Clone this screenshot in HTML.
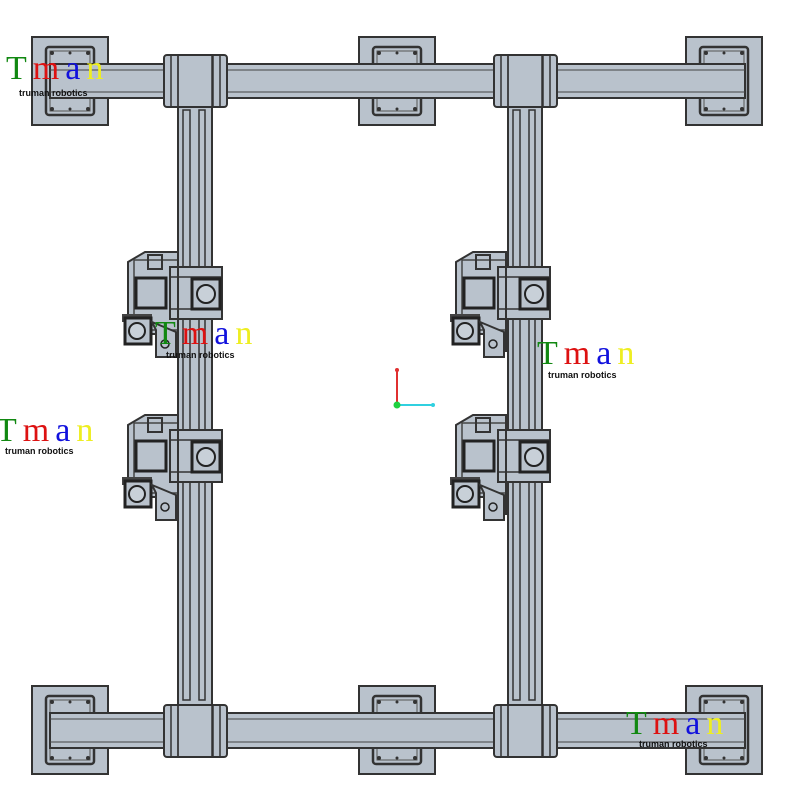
<!DOCTYPE html>
<html><head><meta charset="utf-8"><style>
html,body{margin:0;padding:0;background:#fff;width:800px;height:800px;overflow:hidden}
svg{display:block}
.t{font-family:"Liberation Serif",serif;font-size:34px;letter-spacing:6px}
.s{font-family:"Liberation Sans",sans-serif;font-size:9px;font-weight:bold;fill:#111}
</style></head><body>
<svg width="800" height="800" viewBox="0 0 800 800" xmlns="http://www.w3.org/2000/svg">
<defs>
<g id="plate">
<rect x="0" y="0" width="76" height="88" fill="#b9c2cc" stroke="#333" stroke-width="2"/>
<rect x="14" y="10" width="48" height="68" rx="3" fill="none" stroke="#333" stroke-width="2.5"/>
<rect x="18" y="14" width="40" height="60" fill="none" stroke="#555" stroke-width="1"/>
<circle cx="20" cy="16" r="2" fill="#333"/><circle cx="56" cy="16" r="2" fill="#333"/>
<circle cx="20" cy="72" r="2" fill="#333"/><circle cx="56" cy="72" r="2" fill="#333"/>
<circle cx="38" cy="16" r="1.5" fill="#333"/><circle cx="38" cy="72" r="1.5" fill="#333"/>
</g>
<g id="tee">
<rect x="0" y="0" width="63" height="52" rx="3" fill="#b9c2cc" stroke="#333" stroke-width="2"/>
<line x1="7" y1="0" x2="7" y2="52" stroke="#333" stroke-width="1.5"/>
<line x1="56" y1="0" x2="56" y2="52" stroke="#333" stroke-width="1.5"/>
<line x1="14" y1="0" x2="14" y2="52" stroke="#333" stroke-width="1.5"/>
<line x1="49" y1="0" x2="49" y2="52" stroke="#333" stroke-width="1.5"/>
</g>
<g id="vbeam">
<rect x="0" y="0" width="34" height="700" fill="#b9c2cc" stroke="#333" stroke-width="2"/>
<rect x="5" y="55" width="7" height="590" fill="#b9c2cc" stroke="#333" stroke-width="1.5"/>
<rect x="21" y="55" width="6" height="590" fill="#b9c2cc" stroke="#333" stroke-width="1.5"/>
</g>
<g id="car">
<path d="M8 10 L25 0 L58 0 L58 82 L8 82 Z" fill="#b9c2cc" stroke="#333" stroke-width="2"/>
<rect x="14" y="8" width="44" height="70" fill="none" stroke="#444" stroke-width="1.5"/>
<rect x="50" y="15" width="52" height="52" fill="#b9c2cc" stroke="#333" stroke-width="2"/>
<line x1="50" y1="25" x2="102" y2="25" stroke="#333" stroke-width="1.5"/>
<line x1="50" y1="57" x2="102" y2="57" stroke="#333" stroke-width="1.5"/>
<rect x="16" y="26" width="30" height="30" fill="#b9c2cc" stroke="#222" stroke-width="3"/>
<rect x="72" y="27" width="28" height="30" fill="#b9c2cc" stroke="#222" stroke-width="3"/>
<circle cx="86" cy="42" r="9" fill="#c8d0d8" stroke="#222" stroke-width="2"/>
<rect x="28" y="3" width="14" height="14" fill="none" stroke="#333" stroke-width="2"/>
<rect x="2" y="62" width="30" height="8" fill="#444"/>
<rect x="5" y="66" width="26" height="26" fill="#b9c2cc" stroke="#222" stroke-width="3"/>
<circle cx="17" cy="79" r="8" fill="#c8d0d8" stroke="#222" stroke-width="2"/>
<path d="M32 70 L56 80 L56 105 L36 105 L36 78 Z" fill="#b9c2cc" stroke="#333" stroke-width="2"/>
<circle cx="45" cy="92" r="4" fill="none" stroke="#222" stroke-width="1.5"/>
<line x1="58" y1="0" x2="58" y2="100" stroke="#333" stroke-width="2"/>
</g>
</defs>
<use href="#plate" x="32" y="37"/><use href="#plate" x="359" y="37"/><use href="#plate" x="686" y="37"/>
<use href="#plate" x="32" y="686"/><use href="#plate" x="359" y="686"/><use href="#plate" x="686" y="686"/>
<rect x="50" y="64" width="695" height="34" fill="#b9c2cc" stroke="#333" stroke-width="2"/>
<line x1="50" y1="70" x2="745" y2="70" stroke="#444" stroke-width="1"/>
<line x1="50" y1="92" x2="745" y2="92" stroke="#444" stroke-width="1"/>
<rect x="50" y="713" width="695" height="35" fill="#b9c2cc" stroke="#333" stroke-width="2"/>
<line x1="50" y1="719" x2="745" y2="719" stroke="#444" stroke-width="1"/>
<line x1="50" y1="742" x2="745" y2="742" stroke="#444" stroke-width="1"/>
<use href="#vbeam" x="178" y="55"/><use href="#vbeam" x="508" y="55"/>
<use href="#tee" x="164" y="55"/><use href="#tee" x="494" y="55"/>
<use href="#tee" x="164" y="705"/><use href="#tee" x="494" y="705"/>
<rect x="178" y="55" width="34" height="52" fill="none" stroke="#333" stroke-width="1.5"/>
<rect x="508" y="55" width="34" height="52" fill="none" stroke="#333" stroke-width="1.5"/>
<rect x="178" y="705" width="34" height="52" fill="none" stroke="#333" stroke-width="1.5"/>
<rect x="508" y="705" width="34" height="52" fill="none" stroke="#333" stroke-width="1.5"/>
<use href="#car" x="120" y="252"/><use href="#car" x="120" y="415"/>
<use href="#car" x="448" y="252"/><use href="#car" x="448" y="415"/>
<line x1="397" y1="405" x2="397" y2="370" stroke="#e03030" stroke-width="2"/>
<line x1="397" y1="405" x2="433" y2="405" stroke="#30d0e0" stroke-width="2"/>
<circle cx="397" cy="405" r="3.5" fill="#20d040"/>
<circle cx="397" cy="370" r="2" fill="#e03030"/>
<circle cx="433" cy="405" r="2" fill="#30d0e0"/>
<g>
<text class="t" x="6" y="79"><tspan fill="#118811">T</tspan><tspan fill="#dd1111">m</tspan><tspan fill="#1111dd">a</tspan><tspan fill="#eeee22">n</tspan></text>
<text class="s" x="19" y="96">truman robotics</text>
<text class="t" x="155" y="344"><tspan fill="#118811">T</tspan><tspan fill="#dd1111">m</tspan><tspan fill="#1111dd">a</tspan><tspan fill="#eeee22">n</tspan></text>
<text class="s" x="166" y="358">truman robotics</text>
<text class="t" x="537" y="364"><tspan fill="#118811">T</tspan><tspan fill="#dd1111">m</tspan><tspan fill="#1111dd">a</tspan><tspan fill="#eeee22">n</tspan></text>
<text class="s" x="548" y="378">truman robotics</text>
<text class="t" x="-4" y="441"><tspan fill="#118811">T</tspan><tspan fill="#dd1111">m</tspan><tspan fill="#1111dd">a</tspan><tspan fill="#eeee22">n</tspan></text>
<text class="s" x="5" y="454">truman robotics</text>
<text class="t" x="626" y="734"><tspan fill="#118811">T</tspan><tspan fill="#dd1111">m</tspan><tspan fill="#1111dd">a</tspan><tspan fill="#eeee22">n</tspan></text>
<text class="s" x="639" y="747">truman robotics</text>
</g>
</svg>
</body></html>
